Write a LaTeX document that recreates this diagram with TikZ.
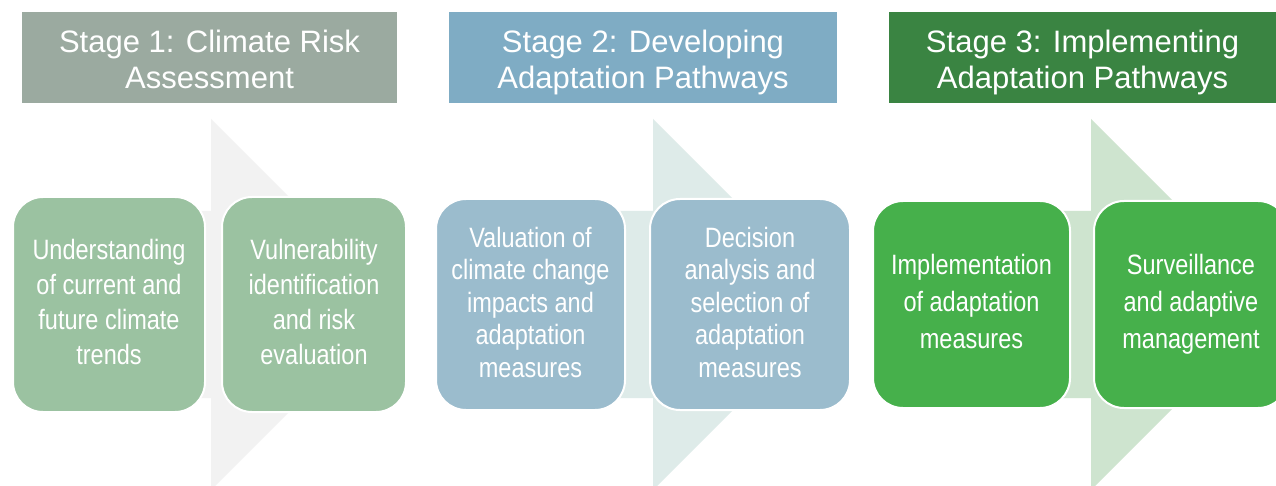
\documentclass[tikz,border=0pt]{standalone}
\usepackage{fontspec}
\setmainfont{Liberation Sans}
\newfontfamily\boxfont{Liberation Sans}[FakeStretch=0.84]
\definecolor{hdrA}{RGB}{155,170,160}
\definecolor{hdrB}{RGB}{127,172,196}
\definecolor{hdrC}{RGB}{58,132,66}
\definecolor{arrA}{RGB}{242,242,242}
\definecolor{arrB}{RGB}{222,235,233}
\definecolor{arrC}{RGB}{206,228,207}
\definecolor{boxA}{RGB}{155,194,161}
\definecolor{boxB}{RGB}{155,188,205}
\definecolor{boxC}{RGB}{70,176,75}
% struts fixing the first baseline and the last depth of each text block
\newcommand\hT{\rule{0pt}{34pt}}
\newcommand\cT{\rule{0pt}{22pt}}
\newcommand\cTc{\rule{0pt}{18pt}}
\newcommand\bD{\rule[-7pt]{0pt}{7pt}}
\begin{document}
\begin{tikzpicture}[x=1pt,y=-1pt,
  header/.style={rectangle, inner sep=0pt, text=white, align=center,
    minimum height=91pt, font=\fontsize{31}{36}\selectfont},
  card/.style={rectangle, rounded corners=30pt, draw=white, line width=2pt,
    text=white, align=center, inner sep=0pt},
  cardA/.style={card, fill=boxA, minimum height=215pt, font={\boxfont\fontsize{28}{35.3}\selectfont}},
  cardB/.style={card, fill=boxB, minimum height=211pt, font={\boxfont\fontsize{28}{32.5}\selectfont}},
  cardC/.style={card, fill=boxC, minimum height=207pt, font={\boxfont\fontsize{28}{37}\selectfont}},
]
\useasboundingbox[fill=white] (0,0) rectangle (1276,486);

% background arrows
\fill[arrA] (60,211) -- (211,211) -- (211,119) -- (396.5,304.5) -- (211,490) -- (211,398) -- (60,398) -- cycle;
\fill[arrB] (500,211) -- (653,211) -- (653,119) -- (838.5,304.5) -- (653,490) -- (653,398) -- (500,398) -- cycle;
\fill[arrC] (950,211) -- (1091,211) -- (1091,119) -- (1276.5,304.5) -- (1091,490) -- (1091,398) -- (950,398) -- cycle;

% headers
\node[header, fill=hdrA, minimum width=375pt] (h1) at (209.5,57.5) {\hT Stage 1: Climate Risk\\Assessment\bD};
\node[header, fill=hdrB, minimum width=388pt] (h2) at (643,57.5) {\hT Stage 2: Developing\\Adaptation Pathways\bD};
\node[header, fill=hdrC, minimum width=387pt] (h3) at (1082.5,57.5) {\hT Stage 3: Implementing\\Adaptation Pathways\bD};

% cards
\node[cardA, minimum width=192pt] (a1) at (109,304.5) {\cT Understanding\\of current and\\future climate\\trends\bD};
\node[cardA, minimum width=184pt] (a2) at (314,304.5) {\cT Vulnerability\\identification\\and risk\\evaluation\bD};
\node[cardB, minimum width=189pt] (b1) at (530.5,304.5) {\cT Valuation of\\climate change\\impacts and\\adaptation\\measures\bD};
\node[cardB, minimum width=200pt] (b2) at (750,304.5) {\cT Decision\\analysis and\\selection of\\adaptation\\measures\bD};
\node[cardC, minimum width=197pt] (c1) at (971.5,304.5) {\cTc Implementation\\of adaptation\\measures\bD};
\node[cardC, minimum width=194pt] (c2) at (1191,304.5) {\cTc Surveillance\\and adaptive\\management\bD};
\end{tikzpicture}
\end{document}
